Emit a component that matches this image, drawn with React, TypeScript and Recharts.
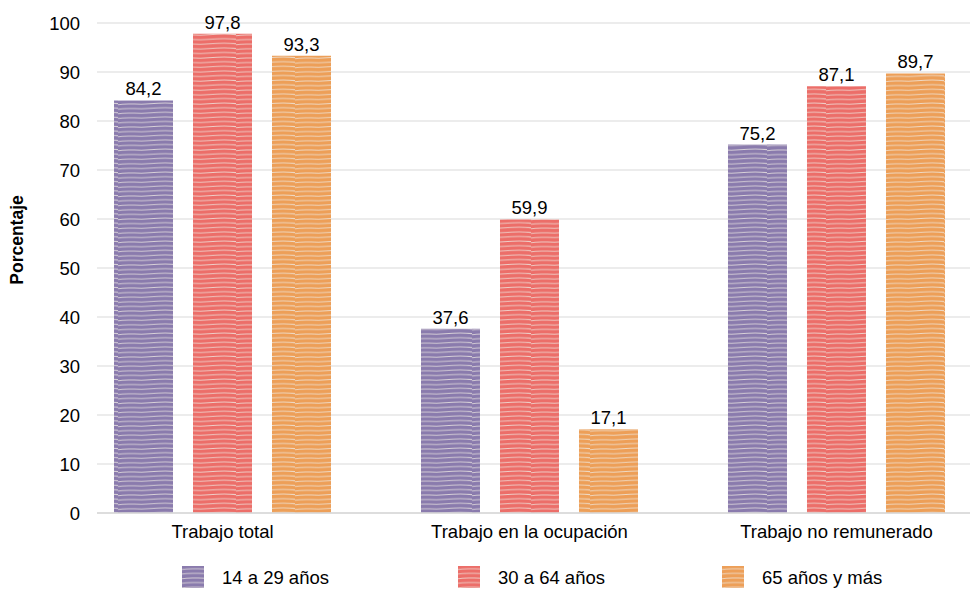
import React from 'react';
import { Bar, BarChart, CartesianGrid, LabelList, XAxis, YAxis } from 'recharts';

// Participación en el trabajo por grupo de edad (%)
const categories = ['Trabajo total', 'Trabajo en la ocupación', 'Trabajo no remunerado'];
const seriesNames = ['14 a 29 años', '30 a 64 años', '65 años y más'];
const youngValues = [84.2, 37.6, 75.2];
const adultValues = [97.8, 59.9, 87.1];
const olderValues = [93.3, 17.1, 89.7];
const yTicks = [0, 10, 20, 30, 40, 50, 60, 70, 80, 90, 100];

const seriesKeys = ['young', 'adult', 'older'];
const seriesColors = ['#8a7bad', '#ec6e69', '#ed9f58'];

const data = categories.map((name, i) => ({
  idx: i,
  name,
  young: youngValues[i],
  adult: adultValues[i],
  older: olderValues[i],
}));

const FONT = '"Liberation Sans", Arial, sans-serif';
const fmt = (v: any) => String(v).replace('.', ',');

const StripePattern = ({ id, color }: { id: string; color: string }) => (
  <pattern id={id} patternUnits="userSpaceOnUse" width={59} height={4.6}>
    <rect width={59} height={4.6} fill={color} />
    <path
      d="M0,3.4 C10,1.6 20,3.8 32,2.6 S50,1.4 59,2.4"
      fill="none"
      stroke="#eeeae4"
      strokeWidth={1}
      opacity={0.75}
    />
  </pattern>
);

const YLabel = () => (
  <text
    x={23}
    y={240}
    transform="rotate(-90 23 240)"
    textAnchor="middle"
    fontFamily={FONT}
    fontSize={17.5}
    fontWeight="bold"
    fill="#000"
  >
    Porcentaje
  </text>
);

const legendLeft = [182, 458, 722];

const App = () => {
  return (
    <div
      style={{
        position: 'absolute',
        left: 0,
        top: 0,
        width: 970,
        height: 589,
        overflow: 'hidden',
        background: '#fff',
        fontFamily: FONT,
      }}
    >
      <BarChart
        width={970}
        height={589}
        data={data}
        margin={{ top: 23, right: 0, left: 0, bottom: 46 }}
        barSize={59}
        barGap={20}
      >
        <defs>
          {seriesKeys.map((k, i) => (
            <StripePattern key={k} id={`stripe-${k}`} color={seriesColors[i]} />
          ))}
        </defs>
        <CartesianGrid vertical={false} stroke="#d9d9d9" strokeWidth={1} />
        <XAxis
          dataKey="idx"
          type="number"
          height={30}
          domain={[-0.4088, 2.4349]}
          allowDataOverflow
          ticks={[0, 1, 2]}
          tickFormatter={(v: number) => categories[v] ?? ''}
          axisLine={{ stroke: '#d9d9d9', strokeWidth: 1.5 }}
          tickLine={false}
          tickSize={0}
          tickMargin={12}
          tick={{ fontSize: 18.5, fill: '#000', fontFamily: FONT }}
        />
        <YAxis
          width={97}
          domain={[0, 100]}
          ticks={yTicks}
          axisLine={false}
          tickLine={false}
          tickSize={0}
          tickMargin={17}
          tick={{ fontSize: 18.5, fill: '#000', fontFamily: FONT }}
          label={<YLabel />}
        />
        {seriesKeys.map((k, i) => (
          <Bar
            key={k}
            dataKey={k}
            name={seriesNames[i]}
            fill={`url(#stripe-${k})`}
            isAnimationActive={false}
          >
            <LabelList
              dataKey={k}
              position="top"
              offset={5}
              formatter={fmt}
              style={{ fontSize: 18.5, fill: '#000', fontFamily: FONT }}
            />
          </Bar>
        ))}
      </BarChart>
      {seriesNames.map((name, i) => (
        <div
          key={name}
          style={{
            position: 'absolute',
            left: legendLeft[i],
            top: 566,
            display: 'flex',
            alignItems: 'center',
            height: 22,
          }}
        >
          <svg width={22} height={22} style={{ display: 'block' }}>
            <rect width={22} height={22} fill={`url(#stripe-${seriesKeys[i]})`} />
          </svg>
          <span style={{ marginLeft: 18, fontSize: 18.5, color: '#000', whiteSpace: 'nowrap', lineHeight: '22px', position: 'relative', top: 1 }}>
            {name}
          </span>
        </div>
      ))}
    </div>
  );
};

export default App;
